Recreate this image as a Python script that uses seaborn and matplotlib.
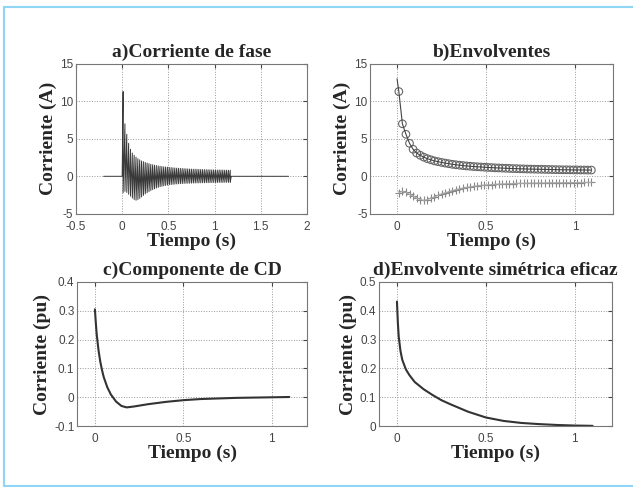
import matplotlib
matplotlib.use("Agg")
import matplotlib.pyplot as plt
import seaborn as sns
import numpy as np
import pandas as pd
from matplotlib.lines import Line2D

t_env = [0.01, 0.03, 0.05, 0.07, 0.09, 0.11, 0.13, 0.15, 0.17, 0.19,
         0.21, 0.23, 0.25, 0.27, 0.29, 0.31, 0.33, 0.35, 0.37, 0.39,
         0.41, 0.43, 0.45, 0.47, 0.49, 0.51, 0.53, 0.55, 0.57, 0.59,
         0.61, 0.63, 0.65, 0.67, 0.69, 0.71, 0.73, 0.75, 0.77, 0.79,
         0.81, 0.83, 0.85, 0.87, 0.89, 0.91, 0.93, 0.95, 0.97, 0.99,
         1.01, 1.03, 1.05, 1.07, 1.09, 1.11, 1.13, 1.15, 1.17]
env_up = [11.3, 7.0, 5.6, 4.4, 3.6, 3.1, 2.8, 2.55, 2.35, 2.2,
          2.05, 1.95, 1.85, 1.76, 1.68, 1.6, 1.54, 1.48, 1.43, 1.38,
          1.34, 1.3, 1.27, 1.24, 1.21, 1.18, 1.16, 1.13, 1.11, 1.09,
          1.07, 1.05, 1.03, 1.02, 1.0, 0.99, 0.97, 0.96, 0.95, 0.94,
          0.93, 0.92, 0.91, 0.9, 0.89, 0.88, 0.87, 0.87, 0.86, 0.85,
          0.85, 0.84, 0.84, 0.83, 0.83, 0.82, 0.82, 0.81, 0.81]
env_lo = [-2.2, -2.0, -2.15, -2.4, -2.65, -2.9, -3.1, -3.2, -3.1, -2.95,
          -2.75, -2.55, -2.35, -2.2, -2.05, -1.9, -1.78, -1.67, -1.57, -1.48,
          -1.4, -1.33, -1.27, -1.22, -1.17, -1.13, -1.1, -1.07, -1.04, -1.02,
          -1.0, -0.98, -0.97, -0.95, -0.94, -0.93, -0.92, -0.91, -0.9, -0.89,
          -0.88, -0.88, -0.87, -0.86, -0.86, -0.85, -0.85, -0.84, -0.84, -0.83,
          -0.83, -0.83, -0.82, -0.82, -0.82, -0.81, -0.81, -0.81, -0.8]
env_up0 = 13.0          # start of the upper envelope line at t=0
b_tmax = 1.1            # envelopes in b drawn up to here

# panel c: componente de CD (pu)
t_cd = [0, 0.005, 0.01, 0.02, 0.03, 0.04, 0.05, 0.07, 0.09, 0.12, 0.15, 0.18,
        0.22, 0.3, 0.4, 0.5, 0.6, 0.7, 0.8, 0.9, 1.0, 1.1]
i_cd = [0.305, 0.26, 0.22, 0.165, 0.125, 0.095, 0.07, 0.035, 0.01, -0.015,
        -0.03, -0.035, -0.032, -0.024, -0.016, -0.01, -0.006, -0.004,
        -0.002, -0.001, 0.0, 0.001]

# panel d: envolvente simetrica eficaz (pu)
t_rms = [0, 0.005, 0.01, 0.02, 0.03, 0.05, 0.07, 0.1, 0.15, 0.2, 0.25, 0.3,
         0.4, 0.5, 0.6, 0.7, 0.8, 0.9, 1.0, 1.1]
i_rms = [0.432, 0.36, 0.31, 0.26, 0.23, 0.197, 0.177, 0.153, 0.128, 0.108,
         0.09, 0.076, 0.05, 0.03, 0.018, 0.011, 0.007, 0.004, 0.002, 0.001]

sns.set_style("white")
plt.rcParams['font.family'] = ['Liberation Sans', 'DejaVu Sans']

fig = plt.figure(figsize=(6.33, 4.87), dpi=100)
serif = dict(family='Liberation Serif', fontweight='bold')

def style(ax, title, ylabel, xlim, ylim, xticks, yticks):
    ax.set_xlim(xlim)
    ax.set_ylim(ylim)
    ax.set_xticks(xticks)
    ax.set_yticks(yticks)
    ax.set_xticklabels([f"{v:g}" for v in xticks])
    ax.set_yticklabels([f"{v:g}" for v in yticks])
    ax.grid(True, linestyle=':', color='#999999', linewidth=0.7)
    ax.tick_params(direction='in', length=3, labelsize=8.5, colors='#444444',
                   top=True, right=True)
    ax.tick_params(axis='x', pad=5)
    ax.tick_params(axis='y', pad=2)
    for s in ax.spines.values():
        s.set_color('#777777')
        s.set_linewidth(0.8)
    ax.set_title(title, fontsize=14, pad=5, **serif)
    ax.set_xlabel('Tiempo (s)', fontsize=14, labelpad=0, **serif)
    ax.set_ylabel(ylabel, fontsize=14, labelpad=2, **serif)

# a) phase current: runs from each upper peak down to the lower peak
ta, ia = [-0.2, 0.0], [0.0, 0.0]
for t, u, l in zip(t_env, env_up, env_lo):
    ta += [t, t]
    ia += [u, l]
ta += [1.18, 1.8]
ia += [0.0, 0.0]
df_a = pd.DataFrame({'t': ta, 'i': ia})
ax1 = fig.add_axes([0.120, 0.561, 0.365, 0.308])
sns.lineplot(data=df_a, x='t', y='i', ax=ax1, color='#3a3a3a', lw=0.7,
             sort=False, estimator=None)
style(ax1, 'a)Corriente de fase', 'Corriente (A)', (-0.5, 2), (-5, 15),
      [-0.5, 0, 0.5, 1, 1.5, 2], [-5, 0, 5, 10, 15])

# b) envelopes
df_b = pd.DataFrame({'t': t_env, 'up': env_up, 'lo': env_lo})
df_b = df_b[df_b.t <= b_tmax]
ax2 = fig.add_axes([0.585, 0.561, 0.383, 0.308])
ax2.plot([0.0] + list(df_b.t), [env_up0] + list(df_b.up), color='#444444', lw=0.8)
sns.scatterplot(data=df_b, x='t', y='up', ax=ax2, marker='o', s=30,
                facecolor='none', edgecolor='#666666', linewidth=0.8)
ax2.plot(df_b.t, df_b.lo, color='#aaaaaa', lw=0.8)
sns.scatterplot(data=df_b, x='t', y='lo', ax=ax2, marker='+', s=28,
                color='#888888', linewidth=0.8)
style(ax2, 'b)Envolventes', 'Corriente (A)', (-0.15, 1.21), (-5, 15),
      [0, 0.5, 1], [-5, 0, 5, 10, 15])

# c) DC component
ax3 = fig.add_axes([0.122, 0.125, 0.363, 0.296])
sns.lineplot(x=t_cd, y=i_cd, ax=ax3, color='#333333', lw=1.5)
style(ax3, 'c)Componente de CD', 'Corriente (pu)', (-0.1, 1.2), (-0.1, 0.4),
      [0, 0.5, 1], [-0.1, 0, 0.1, 0.2, 0.3, 0.4])

# d) symmetric rms envelope
ax4 = fig.add_axes([0.599, 0.125, 0.368, 0.296])
sns.lineplot(x=t_rms, y=i_rms, ax=ax4, color='#333333', lw=1.5)
style(ax4, 'd)Envolvente simétrica eficaz', 'Corriente (pu)', (-0.1, 1.21),
      (0, 0.5), [0, 0.5, 1], [0, 0.1, 0.2, 0.3, 0.4, 0.5])

# light blue frame
fc = '#8fd6f5'
for xs, ys in [([4 / 633, 1.0], [1 - 7 / 487] * 2),
               ([4 / 633] * 2, [1 - 7 / 487, 1 - 486 / 487]),
               ([4 / 633, 1.0], [1 - 486 / 487] * 2)]:
    fig.add_artist(Line2D(xs, ys, color=fc, lw=1.5, transform=fig.transFigure))

fig.savefig('out.png', dpi=100)
